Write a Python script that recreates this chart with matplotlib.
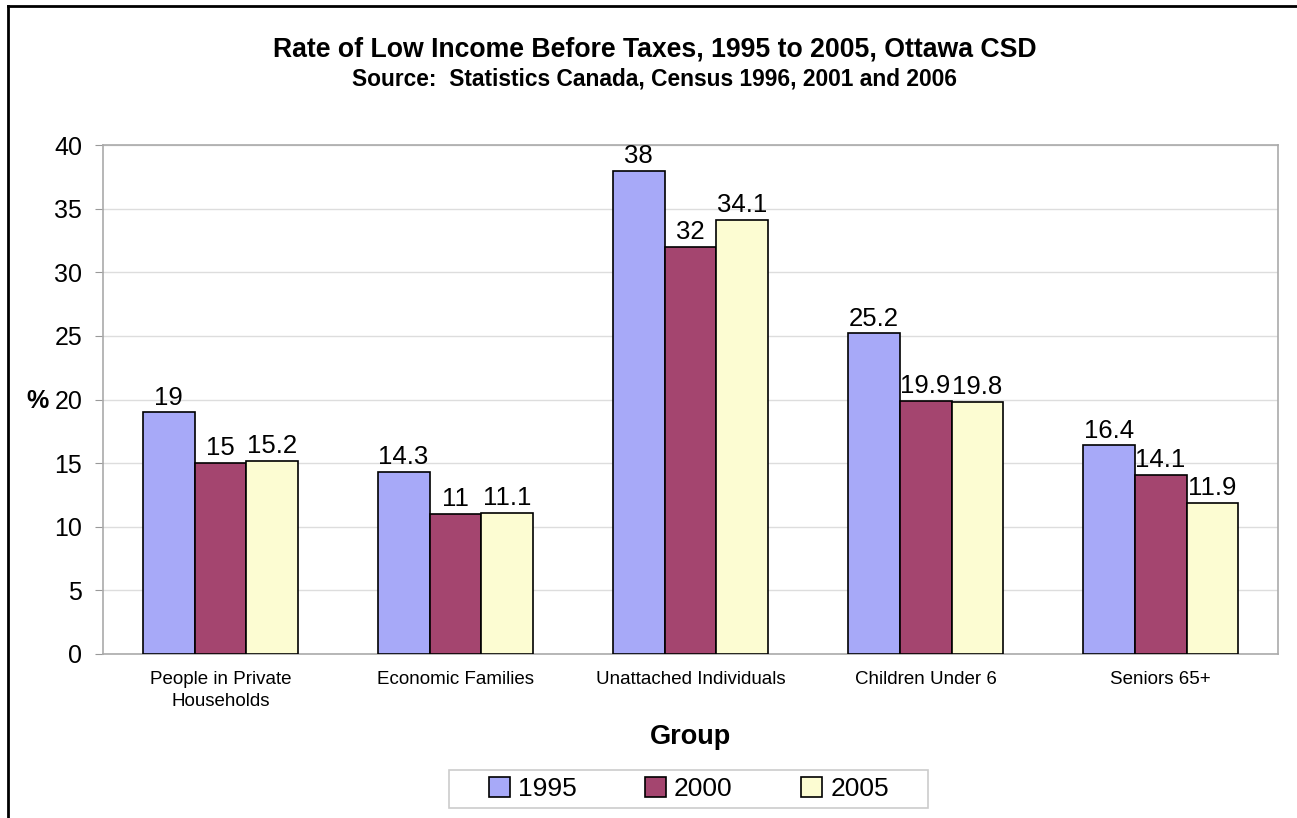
import matplotlib.pyplot as plt
import numpy as np
from matplotlib.patches import Rectangle

plt.rcParams['font.family'] = ['Liberation Sans', 'DejaVu Sans']

groups = ["People in Private\nHouseholds", "Economic Families", "Unattached Individuals",
          "Children Under 6", "Seniors 65+"]
years = ["1995", "2000", "2005"]
rates_1995 = [19, 14.3, 38, 25.2, 16.4]
rates_2000 = [15, 11, 32, 19.9, 14.1]
rates_2005 = [15.2, 11.1, 34.1, 19.8, 11.9]
colors = ["#A7A9F8", "#A4456F", "#FCFCD2"]

fig = plt.figure(figsize=(12.97, 8.18), dpi=100)
ax = fig.add_axes([0.0794, 0.2005, 0.906, 0.622])

x = np.arange(len(groups))
width = 0.221
for i, (vals, year) in enumerate(zip([rates_1995, rates_2000, rates_2005], years)):
    bars = ax.bar(x + (i - 1) * width, vals, width, color=colors[i],
                  edgecolor="black", linewidth=1.2, label=year, zorder=3)
    for b, v in zip(bars, vals):
        ax.annotate(f"{v:g}", (b.get_x() + b.get_width() / 2, v),
                    xytext=(0, 2), textcoords="offset points",
                    ha="center", va="bottom", fontsize=18.5)

ax.set_xlim(-0.5, len(groups) - 0.5)
ax.set_ylim(0, 40)
ax.set_yticks(range(0, 41, 5))
ax.tick_params(axis="y", labelsize=18, length=6, color="#999999", pad=9)
ax.tick_params(axis="x", length=0, labelsize=13.5, pad=12)
ax.set_xticks(x)
ax.set_xticklabels(groups, linespacing=1.4)
ax.yaxis.grid(True, color="#DDDDDD", linewidth=1, zorder=0)
for s in ax.spines.values():
    s.set_color("#AAAAAA")
    s.set_linewidth(1.2)

ax.set_ylabel("%", fontsize=18, fontweight="bold", rotation=0, labelpad=2)
ax.yaxis.set_label_coords(-0.0557, 0.473)
ax.set_xlabel("Group", fontsize=19.5, fontweight="bold")
ax.xaxis.set_label_coords(0.5, -0.138)

fig.text(0.505, 0.939, "Rate of Low Income Before Taxes, 1995 to 2005, Ottawa CSD",
         ha="center", va="center", fontsize=19.2, fontweight="bold")
fig.text(0.505, 0.904, "Source:  Statistics Canada, Census 1996, 2001 and 2006",
         ha="center", va="center", fontsize=16.4, fontweight="bold")

leg = ax.legend(loc="center", ncol=3, fontsize=19, frameon=False,
                handlelength=0.8, handleheight=0.8, handletextpad=0.3,
                columnspacing=2.6, borderpad=0.3)
leg.set_bbox_to_anchor((0.531, 0.0355), transform=fig.transFigure)
# legend box
fig.add_artist(Rectangle((0.3462, 0.0122), 0.3693, 0.0465, transform=fig.transFigure,
                         facecolor="none", edgecolor="#CCCCCC", linewidth=1.2))

# outer border (left and top)
fig.add_artist(plt.Line2D([0.0062, 0.0062], [0, 0.993], color="black", linewidth=2, transform=fig.transFigure))
fig.add_artist(plt.Line2D([0.0062, 1], [0.993, 0.993], color="black", linewidth=2, transform=fig.transFigure))

plt.savefig("out.png", dpi=100)
